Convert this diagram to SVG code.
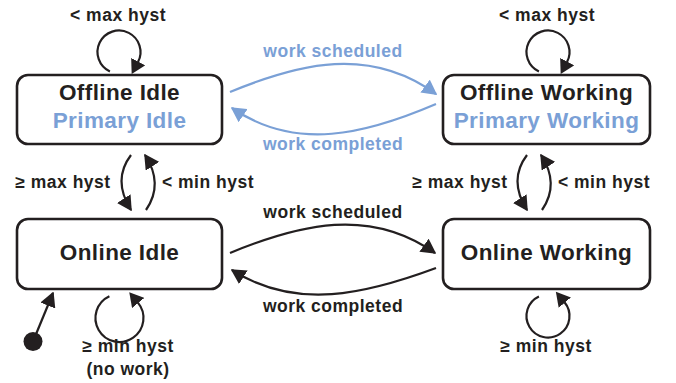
<svg xmlns="http://www.w3.org/2000/svg" width="676" height="383" viewBox="0 0 676 383">
<style>
.box{fill:#fff;stroke:#231f20;stroke-width:2.6}
.t{font-family:"Liberation Sans",Arial,sans-serif;font-weight:bold;text-anchor:middle}
.big{font-size:22.5px;letter-spacing:0.4px;fill:#231f20}
.bigb{font-size:22.5px;letter-spacing:0.4px;fill:#7aa0d6}
.lbl{font-size:17.5px;letter-spacing:0.5px;fill:#231f20}
.lblb{font-size:17.5px;letter-spacing:0.5px;fill:#7aa0d6}
.ck{fill:none;stroke:#231f20;stroke-width:2.2}
.cb{fill:none;stroke:#7aa0d6;stroke-width:2.2}
</style>
<defs>
<marker id="ak" markerUnits="userSpaceOnUse" markerWidth="15" markerHeight="16" viewBox="0 0 15 16" refX="13.5" refY="8" orient="auto"><path d="M0,0 L15,8 L0,16 z" fill="#231f20"/></marker>
<marker id="ab" markerUnits="userSpaceOnUse" markerWidth="15" markerHeight="16" viewBox="0 0 15 16" refX="13.5" refY="8" orient="auto"><path d="M0,0 L15,8 L0,16 z" fill="#7aa0d6"/></marker>
<marker id="akb" markerUnits="userSpaceOnUse" markerWidth="15" markerHeight="16" viewBox="0 0 15 16" refX="0.5" refY="8" orient="auto"><path d="M0,0 L14,8 L0,16 z" fill="#231f20"/></marker>
</defs>

<g id="offline-idle">
<rect class="box" x="17" y="75" width="205" height="69" rx="11"/>
<text class="t big" x="119.5" y="100">Offline Idle</text>
<text class="t bigb" x="119.5" y="128">Primary Idle</text>
</g>
<g id="offline-working">
<rect class="box" x="443" y="75" width="207" height="69" rx="11"/>
<text class="t big" x="546.5" y="100">Offline Working</text>
<text class="t bigb" x="546.5" y="128">Primary Working</text>
</g>
<g id="online-idle">
<rect class="box" x="17" y="219" width="205" height="70" rx="11"/>
<text class="t big" x="119.5" y="260">Online Idle</text>
</g>
<g id="online-working">
<rect class="box" x="443" y="219" width="207" height="70" rx="11"/>
<text class="t big" x="546.5" y="260">Online Working</text>
</g>
<g id="initial">
<circle cx="33" cy="341.5" r="9.5" fill="#231f20"/>
</g>

<g id="connectors">
<!-- self loops top -->
<path class="ck" d="M109.9,71.5 A21.5,21.5 0 1 1 138,62.1" marker-end="url(#akb)"/>
<path class="ck" d="M538.9,71.5 A21.5,21.5 0 1 1 567,62.1" marker-end="url(#akb)"/>
<!-- self loops bottom -->
<path class="ck" d="M109.4,296.2 A24,24 0 1 0 137.9,302.6" marker-end="url(#akb)"/>
<path class="ck" d="M538.9,296.5 A21.5,21.5 0 1 0 564.5,302.2" marker-end="url(#akb)"/>
<!-- blue horizontal -->
<path class="cb" d="M230,92 C300,63 370,46 436,94" marker-end="url(#ab)"/>
<path class="cb" d="M436,104 C366,134 296,152 232,108" marker-end="url(#ab)"/>
<!-- black horizontal -->
<path class="ck" d="M230,253 C300,224 370,207 435,253" marker-end="url(#ak)"/>
<path class="ck" d="M436,268 C366,294 296,311 232,270" marker-end="url(#ak)"/>
<!-- vertical pairs -->
<path class="ck" d="M131,155 Q112,180 131,210" marker-end="url(#ak)"/>
<path class="ck" d="M146,210 Q164,184 145,155" marker-end="url(#ak)"/>
<path class="ck" d="M527,155 Q508,180 527,210" marker-end="url(#ak)"/>
<path class="ck" d="M542,210 Q560,184 541,155" marker-end="url(#ak)"/>
<!-- initial -->
<path class="ck" d="M33,341.5 L53,293" marker-end="url(#ak)"/>
</g>

<g id="labels">
<text class="t lbl" x="118" y="21">&lt; max hyst</text>
<text class="t lbl" x="547" y="21">&lt; max hyst</text>
<text class="t lblb" x="333" y="57">work scheduled</text>
<text class="t lblb" x="333" y="150">work completed</text>
<text class="t lbl" x="63" y="188">≥ max hyst</text>
<text class="t lbl" x="208" y="188">&lt; min hyst</text>
<text class="t lbl" x="460" y="188">≥ max hyst</text>
<text class="t lbl" x="604" y="188">&lt; min hyst</text>
<text class="t lbl" x="333" y="218">work scheduled</text>
<text class="t lbl" x="333" y="312">work completed</text>
<text class="t lbl" x="128" y="352">≥ min hyst</text>
<text class="t lbl" x="128" y="375">(no work)</text>
<text class="t lbl" x="546" y="352">≥ min hyst</text>
</g>
</svg>
